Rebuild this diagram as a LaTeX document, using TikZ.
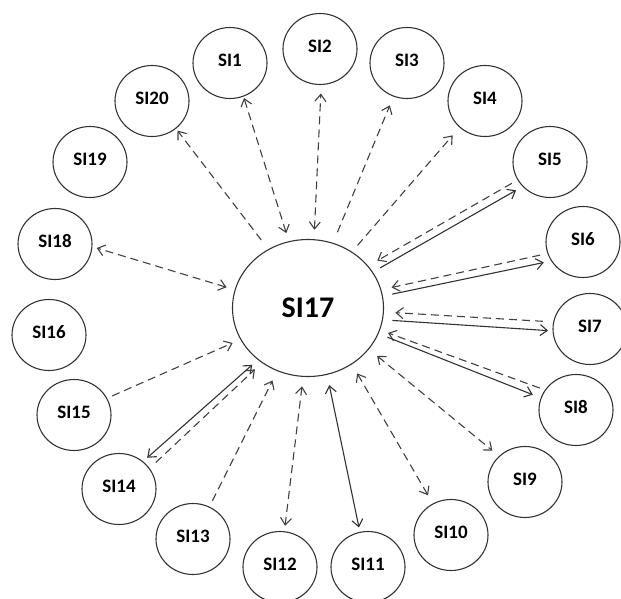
\documentclass[tikz,border=0pt]{standalone}
\usepackage{fontspec}
\setmainfont{Carlito}
\usetikzlibrary{arrows.meta}
\usetikzlibrary{shapes.geometric}

\begin{document}
\begin{tikzpicture}[x=1pt, y=-1pt, >={Straight Barb[length=7pt,width=11pt]},
site/.style={draw=black!80, line width=1.1pt, ellipse, inner sep=0pt, outer sep=0pt,
  minimum width=74pt, minimum height=71pt,
  font=\bfseries\fontsize{19}{19}\selectfont, text height=12pt, text depth=6pt},
hub/.style={draw=black!80, line width=1.1pt, ellipse, inner sep=0pt, outer sep=0pt,
  minimum width=151pt, minimum height=137pt,
  font=\bfseries\fontsize{30}{30}\selectfont},
link/.style={draw=black!75, line width=1.1pt, dash pattern=on 8pt off 5pt},
tie/.style={draw=black!80, line width=1.1pt}]

    \clip (0,0) rectangle (621,598);

    \node[hub] (si17) at (308,308) {SI17};

    \node[site] (si1) at (230,63) {SI1};
    \node[site] (si2) at (320,49) {SI2};
    \node[site] (si3) at (407,63) {SI3};
    \node[site] (si4) at (485,101) {SI4};
    \node[site] (si5) at (550,162) {SI5};
    \node[site] (si6) at (583,242) {SI6};
    \node[site] (si7) at (590,329) {SI7};
    \node[site] (si8) at (576,410) {SI8};
    \node[site] (si9) at (525,482) {SI9};
    \node[site] (si10) at (451,535) {SI10};
    \node[site] (si11) at (368,567) {SI11};
    \node[site] (si12) at (280,567) {SI12};
    \node[site] (si13) at (193,539) {SI13};
    \node[site] (si14) at (119,489) {SI14};
    \node[site] (si15) at (74,415) {SI15};
    \node[site] (si16) at (49,335) {SI16};
    \node[site] (si18) at (55,244) {SI18};
    \node[site] (si19) at (90,162) {SI19};
    \node[site] (si20) at (152,101) {SI20};

    % upper half
    \draw[link, <->, shorten <=9pt, shorten >=2pt] (si17.106) -- (si1.-68);
    \draw[link, <->, shorten <=10pt, shorten >=9pt] (si17.85) -- (si2.-88);
    \draw[link, ->, shorten <=12pt, shorten >=10pt] (si17.69) -- (si3.-112);
    \draw[link, ->, shorten <=9pt, shorten >=11pt] (si17.52) -- (si4.-134);
    \draw[link, ->, shorten <=7pt, shorten >=11pt] (si5.-151) -- (si17.35);
    \draw[tie, ->, shorten <=9pt, shorten >=8pt] (si17.29) -- (si5.-138);
    \draw[link, ->, shorten <=8pt, shorten >=11pt] (si6.-162) -- (si17.14);
    \draw[tie, ->, shorten <=10pt, shorten >=8pt] (si17.9) -- (si6.-149);
    \draw[link, <->, shorten <=9pt, shorten >=5pt] (si17.166) -- (si18.-4);
    \draw[link, ->, shorten <=12pt, shorten >=3pt] (si17.124) -- (si20.-49);

    % lower half
    \draw[link, ->, shorten <=11pt, shorten >=12pt] (si7.169) -- (si17.-3);
    \draw[tie, ->, shorten <=10pt, shorten >=5pt] (si17.-9) -- (si7.-177);
    \draw[link, ->, shorten <=6pt, shorten >=9pt] (si8.147) -- (si17.-17);
    \draw[tie, ->, shorten <=10pt, shorten >=9pt] (si17.-20) -- (si8.161);
    \draw[link, <->, shorten <=11pt, shorten >=9pt] (si17.-34) -- (si9.135);
    \draw[link, <->, shorten <=11pt, shorten >=10pt] (si17.-52) -- (si10.120);
    \draw[tie, <->, shorten <=11pt, shorten >=5pt] (si17.-74) -- (si11.103);
    \draw[link, <->, shorten <=10pt, shorten >=6pt] (si17.-94) -- (si12.83);
    \draw[link, ->, shorten <=7pt, shorten >=11pt] (si13.63) -- (si17.-116);
    \draw[tie, <->, shorten <=8pt, shorten >=6pt] (si17.-134) -- (si14.49);
    \draw[link, ->, shorten <=9pt, shorten >=10pt] (si14.34) -- (si17.-130);
    \draw[link, ->, shorten <=6pt, shorten >=9pt] (si15.27) -- (si17.-155);

\end{tikzpicture}
\end{document}
